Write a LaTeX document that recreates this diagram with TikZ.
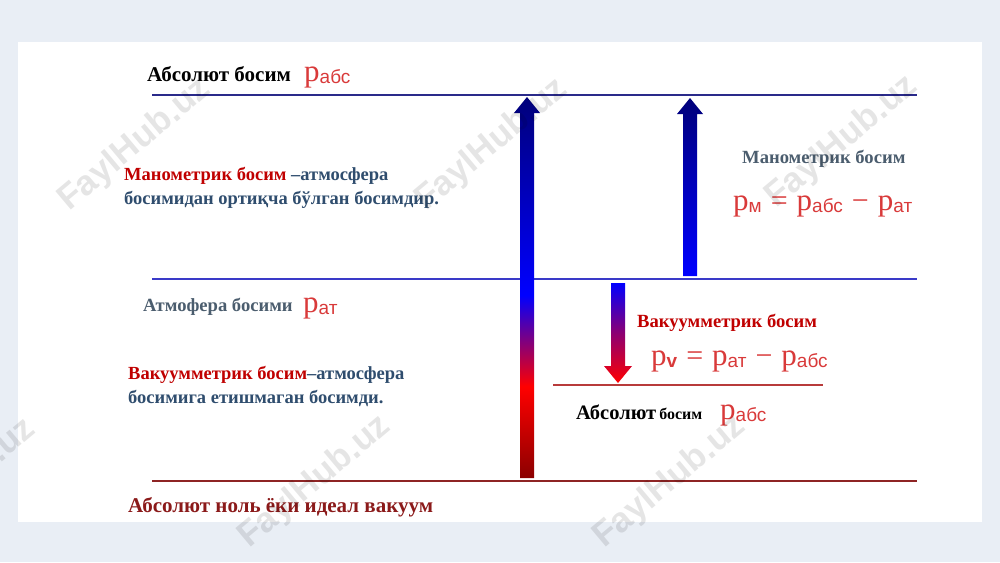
\documentclass[tikz,border=0pt]{standalone}
\usepackage{fontspec}
\setmainfont{Liberation Serif}
\newfontfamily\sansf{Liberation Sans}
\definecolor{bgc}{HTML}{E9EEF5}
\definecolor{navyline}{HTML}{2A2A8A}
\definecolor{blueline}{HTML}{3A3AC8}
\definecolor{redline}{HTML}{B83B3B}
\definecolor{darkredline}{HTML}{8E2424}
\definecolor{tred}{HTML}{C00000}
\definecolor{tslate}{HTML}{2F4D6E}
\definecolor{tgray}{HTML}{4B5D6E}
\definecolor{fred}{HTML}{D93A3A}
\definecolor{tdred}{HTML}{8B1A1A}
\definecolor{arnavy}{HTML}{00007A}
\definecolor{arblue}{HTML}{0000FF}
\definecolor{arred}{HTML}{FF0000}
\definecolor{ardred}{HTML}{8B0000}
\pgfdeclareverticalshading{bigarrow}{100bp}{color(0bp)=(ardred); color(25bp)=(ardred); color(37bp)=(arred); color(49bp)=(arblue); color(75bp)=(arnavy); color(100bp)=(arnavy)}
\newcommand{\pp}[1]{{\fontsize{31}{31}\selectfont p}\raisebox{-2pt}{\fontsize{19}{19}\selectfont\sansf #1}}
\newcommand{\op}[1]{\hspace{9pt}{\fontsize{30}{30}\selectfont #1}\hspace{9pt}}
\tikzset{
  lvl/.style={line width=2.2pt},
  txt/.style={anchor=base west, inner sep=0pt, font=\bfseries\fontsize{18.5}{24}\selectfont, align=left},
  big/.style={font=\bfseries\fontsize{21}{21}\selectfont},
  lbl/.style={font=\bfseries\fontsize{18.6}{18.6}\selectfont},
  frm/.style={anchor=base west, inner sep=0pt, text=fred},
  wm/.style={rotate=40, text=black, opacity=0.10, font=\sansf\bfseries\fontsize{35}{35}\selectfont}
}
\begin{document}
\begin{tikzpicture}[x=1pt,y=-1pt]
\useasboundingbox (0,0) rectangle (1000,562);
\fill[bgc] (0,0) rectangle (1000,562);
\fill[white] (18,42) rectangle (982,522);
% level lines
\draw[lvl, navyline] (152,95) coordinate (t1) -- (917,95) coordinate (t2);
\draw[lvl, blueline] (152,279) coordinate (m1) -- (917,279) coordinate (m2);
\draw[lvl, redline] (553,385) coordinate (s1) -- (823,385) coordinate (s2);
\draw[lvl, darkredline, line width=2.6pt] (152,481) coordinate (b1) -- (917,481) coordinate (b2);
% arrows
\shade[shading=bigarrow] (520,478) -- (520,113) -- (514,113) -- (527,97) -- (540,113) -- (534,113) -- (534,478) -- cycle;
\shade[top color=arnavy, bottom color=arblue] (683,276) -- (683,114) -- (677,114) -- (690,98) -- (703,114) -- (697,114) -- (697,276) -- cycle;
\shade[top color=arblue, bottom color=arred, middle color=arred!55!arblue] (611,283) -- (611,366) -- (604,366) -- (618,383) -- (632,366) -- (625,366) -- (625,283) -- cycle;
% texts
\node[txt, big] (absT) at (147,81) {Абсолют босим};
\node[frm] (pabsT) at (304,81) {\pp{абс}};
\node[txt, text=tslate] (manoDef) at (124,204) {\textcolor{tred}{Манометрик босим} –атмосфера\\босимидан ортиқча бўлган босимдир.};
\node[txt, lbl, text=tgray] (manoR) at (742,163) {Манометрик босим};
\node[frm] (fm) at (733,210) {\pp{м}\op{=}\pp{абс}\op{−}\pp{ат}};
\node[txt, lbl, text=tgray] (atm) at (143,311) {Атмофера босими};
\node[frm] (pat) at (303,312) {\pp{ат}};
\node[txt, lbl, text=tred] (vakR) at (637,327) {Вакуумметрик босим};
\node[frm] (fv) at (651,365) {{\fontsize{31}{31}\selectfont p}\raisebox{-2pt}{\fontsize{19}{19}\selectfont\sansf\bfseries v}\op{=}\pp{ат}\op{−}\pp{абс}};
\node[txt] (absL) at (576,419) {{\fontsize{20.5}{20.5}\selectfont Абсолют}\,{\fontsize{16}{16}\selectfont босим}};
\node[frm] (pabsL) at (720,419) {\pp{абс}};
\node[txt, text=tslate] (vakDef) at (128,403) {\textcolor{tred}{Вакуумметрик босим}–атмосфера\\босимига етишмаган босимди.};
\node[txt, big, text=tdred] (zero) at (128,512) {Абсолют ноль ёки идеал вакуум};
% watermarks
\node[wm] (w1) at (135,145) {FaylHub.uz};
\node[wm] (w2) at (492,145) {FaylHub.uz};
\node[wm] (w3) at (842,142) {FaylHub.uz};
\node[wm] (w4) at (-40,485) {FaylHub.uz};
\node[wm] (w5) at (315,482) {FaylHub.uz};
\node[wm] (w6) at (670,482) {FaylHub.uz};
\end{tikzpicture}
\end{document}
